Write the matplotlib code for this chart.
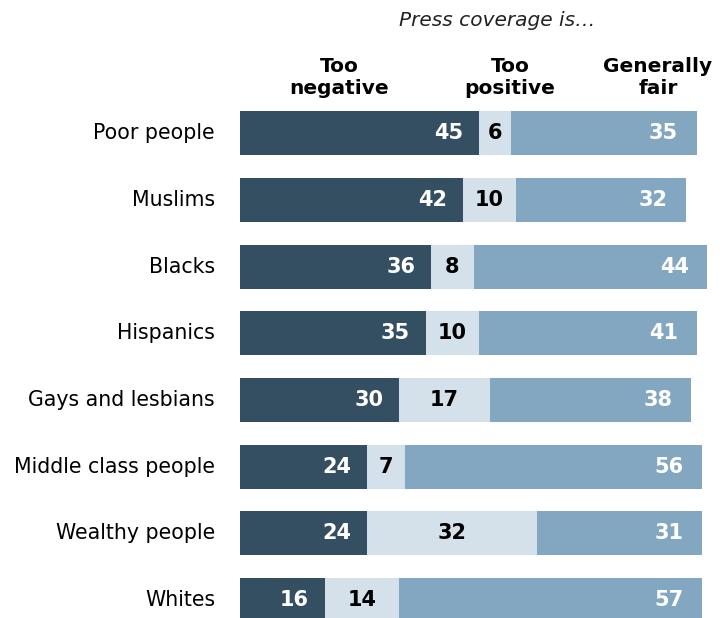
import matplotlib
matplotlib.use("Agg")
import matplotlib.pyplot as plt

categories = ["Poor people", "Muslims", "Blacks", "Hispanics", "Gays and lesbians",
              "Middle class people", "Wealthy people", "Whites"]
too_negative = [45, 42, 36, 35, 30, 24, 24, 16]
too_positive = [6, 10, 8, 10, 17, 7, 32, 14]
generally_fair = [35, 32, 44, 41, 38, 56, 31, 57]
headers = ["Too\nnegative", "Too\npositive", "Generally\nfair"]
title = "Press coverage is\u2026"

c_dark = "#344f62"
c_light = "#d4e1ea"
c_mid = "#84a7c1"

W, H = 727, 618
fig = plt.figure(figsize=(W / 100, H / 100), dpi=100)
ax_left, ax_top, ax_bottom = 240, 100, 618
px_per_unit = 5.31
ax_width_px = W - ax_left
ax = fig.add_axes([ax_left / W, 1 - ax_bottom / H, ax_width_px / W, (ax_bottom - ax_top) / H])
ax.set_xlim(0, ax_width_px / px_per_unit)
ax.set_ylim(7.27, -0.5)
ax.axis("off")

y = list(range(len(categories)))
h = 0.66
ax.barh(y, too_negative, height=h, color=c_dark)
ax.barh(y, too_positive, left=too_negative, height=h, color=c_light)
left2 = [a + b for a, b in zip(too_negative, too_positive)]
ax.barh(y, generally_fair, left=left2, height=h, color=c_mid)

fs = 15
for i in y:
    n, p, f = too_negative[i], too_positive[i], generally_fair[i]
    ax.text(n - 3.0, i, str(n), ha="right", va="center", color="white",
            fontsize=fs, fontweight="bold")
    ax.text(n + p / 2, i, str(p), ha="center", va="center", color="black",
            fontsize=fs, fontweight="bold")
    ax.text(n + p + f - 3.5, i, str(f), ha="right", va="center", color="white",
            fontsize=fs, fontweight="bold")
    ax.text(-4.7, i, categories[i], ha="right", va="center", color="black", fontsize=14.8)

hx = [339, 510, 658]
for x, t in zip(hx, headers):
    fig.text(x / W, 1 - 78 / H, t, ha="center", va="center", fontsize=14.5,
             fontweight="bold", linespacing=1.2)
fig.text(497 / W, 1 - 21 / H, title, ha="center", va="center", fontsize=14.5,
         style="italic", color="#222222")

fig.savefig("out.png", dpi=100)
